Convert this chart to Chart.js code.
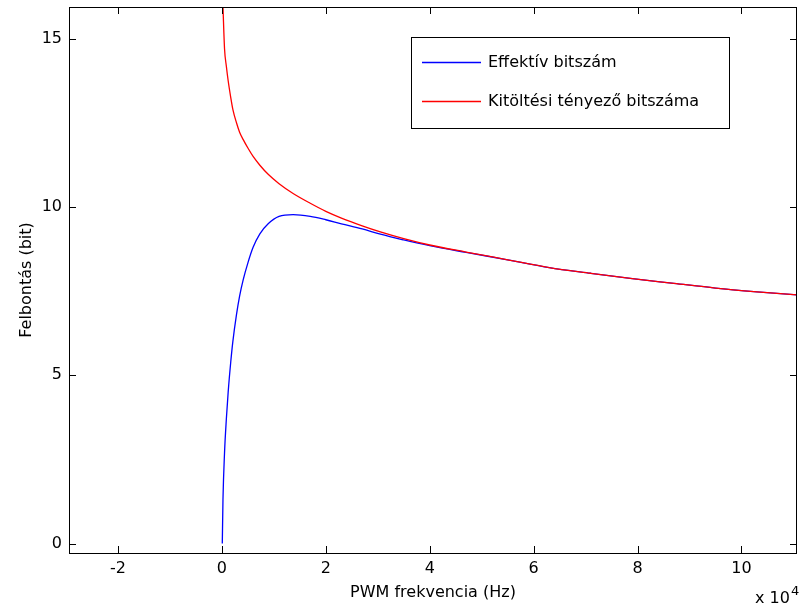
<!DOCTYPE html>
<html>
<head>
<meta charset="utf-8">
<script src="https://cdn.jsdelivr.net/npm/chart.js@4"></script>
<style>
  html, body { margin: 0; padding: 0; background: #fff; }
  #wrap { width: 800px; height: 611px; position: relative; }
</style>
</head>
<body>
<div id="wrap"><canvas id="pwmChart"></canvas></div>
<script>
// PWM frekvencia (Hz) - a leolvasott pontok
const freqHz = [70, 200, 500, 850, 1200, 1700, 2100, 2800, 3400, 4100, 5000, 6000, 7300, 8900,
  11000, 13700, 17000, 20000, 23000, 27000, 30500, 35000, 40000, 47000, 55000, 63000,
  71000, 79000, 87000, 95000, 103000, 110700];

// Effektív bitszám
const effBits = [0.0, 1.3, 2.7, 3.7, 4.5, 5.4, 6.0, 6.8, 7.35, 7.84, 8.34, 8.8, 9.2, 9.5,
  9.72, 9.77, 9.72, 9.62, 9.5, 9.35, 9.19, 9.02, 8.85, 8.65, 8.43, 8.2,
  8.03, 7.87, 7.73, 7.59, 7.48, 7.39];

// Kitöltési tényező bitszáma
const dutyBits = [null, 15.95, 14.7, 14.18, 13.75, 13.25, 12.9, 12.5, 12.22, 12.0, 11.75, 11.5, 11.24, 10.97,
  10.69, 10.4, 10.11, 9.87, 9.67, 9.44, 9.26, 9.06, 8.87, 8.66, 8.43, 8.2,
  8.03, 7.87, 7.73, 7.59, 7.48, 7.39];

const xTicks = [-20000, 0, 20000, 40000, 60000, 80000, 100000];
const yTicks = [0, 5, 10, 15];
const seriesNames = ['Effektív bitszám', 'Kitöltési tényező bitszáma'];

const FONT = 'DejaVu Sans';

// keret, befelé álló osztások, x 10^4 felirat és jelmagyarázat
const matlabAxes = {
  id: 'matlabAxes',
  afterDraw(chart) {
    const ctx = chart.ctx;
    const a = chart.chartArea;
    const xs = chart.scales.x, ys = chart.scales.y;
    const tl = 7;
    ctx.save();
    ctx.strokeStyle = '#000';
    ctx.lineWidth = 1;
    ctx.beginPath();
    xTicks.forEach(v => {
      const px = Math.round(xs.getPixelForValue(v)) + 0.5;
      ctx.moveTo(px, a.bottom); ctx.lineTo(px, a.bottom - tl);
      ctx.moveTo(px, a.top); ctx.lineTo(px, a.top + tl);
    });
    yTicks.forEach(v => {
      const py = Math.round(ys.getPixelForValue(v)) + 0.5;
      ctx.moveTo(a.left, py); ctx.lineTo(a.left + tl, py);
      ctx.moveTo(a.right, py); ctx.lineTo(a.right - tl, py);
    });
    ctx.stroke();
    ctx.strokeRect(Math.round(a.left) + 0.5, Math.round(a.top) + 0.5,
      Math.round(a.right - a.left) - 1, Math.round(a.bottom - a.top));

    // x 10^4
    ctx.fillStyle = '#000';
    ctx.textBaseline = 'alphabetic';
    ctx.textAlign = 'left';
    ctx.font = '16px "' + FONT + '"';
    ctx.fillText('x 10', 755, 603);
    const w = ctx.measureText('x 10').width;
    ctx.font = '13px "' + FONT + '"';
    ctx.fillText('4', 755 + w + 1, 595);

    // jelmagyarázat
    const lx = 411, ly = 37, lw = 318, lh = 91;
    ctx.fillStyle = '#fff';
    ctx.fillRect(lx, ly, lw, lh);
    ctx.strokeStyle = '#000';
    ctx.strokeRect(lx + 0.5, ly + 0.5, lw, lh);
    const rows = [62.5, 101.5];
    const byLabel = {};
    chart.data.datasets.forEach(ds => { byLabel[ds.label] = ds.borderColor; });
    ctx.font = '16px "' + FONT + '"';
    ctx.textBaseline = 'middle';
    seriesNames.forEach((name, i) => {
      ctx.strokeStyle = byLabel[name];
      ctx.lineWidth = 1.3;
      ctx.beginPath();
      ctx.moveTo(422, rows[i]); ctx.lineTo(481, rows[i]);
      ctx.stroke();
      ctx.fillStyle = '#000';
      ctx.fillText(name, 488, rows[i]);
    });
    ctx.restore();
  }
};

// a skála határai már megvannak, itt csak a feliratozott osztásokat cseréljük
const setTicks = list => scale => {
  scale.ticks = list.map(v => ({ value: v }));
};

new Chart(document.getElementById('pwmChart'), {
  type: 'line',
  data: {
    datasets: [
      {
        label: seriesNames[1],
        data: freqHz.map((f, i) => ({ x: f, y: dutyBits[i] })),
        borderColor: '#ff0000',
        borderWidth: 1.3,
        pointRadius: 0,
        cubicInterpolationMode: 'monotone',
        order: 0
      },
      {
        label: seriesNames[0],
        data: freqHz.map((f, i) => ({ x: f, y: effBits[i] })),
        borderColor: '#0000ff',
        borderWidth: 1.3,
        pointRadius: 0,
        cubicInterpolationMode: 'monotone',
        order: 1
      }
    ]
  },
  options: {
    responsive: true,
    maintainAspectRatio: false,
    animation: false,
    layout: { padding: { left: 0, right: 3, top: 7, bottom: 0 } },
    plugins: { legend: { display: false }, tooltip: { enabled: false } },
    scales: {
      x: {
        type: 'linear',
        min: -29440,
        max: 110700,
        afterBuildTicks: setTicks(xTicks),
        afterFit: s => { s.height = 58; s.paddingLeft = 0; s.paddingRight = 0; },
        grid: { display: false, drawTicks: false },
        border: { display: false },
        ticks: {
          autoSkip: false,
          maxRotation: 0,
          padding: 6,
          color: '#000',
          font: { family: FONT, size: 16 },
          callback: v => String(v / 10000)
        },
        title: {
          display: true,
          text: 'PWM frekvencia (Hz)',
          color: '#000',
          font: { family: FONT, size: 16 },
          padding: { top: 0, bottom: 9 }
        }
      },
      y: {
        type: 'linear',
        min: -0.28,
        max: 15.94,
        afterBuildTicks: setTicks(yTicks),
        afterFit: s => { s.width = 69; s.paddingTop = 0; s.paddingBottom = 0; },
        grid: { display: false, drawTicks: false },
        border: { display: false },
        ticks: {
          autoSkip: false,
          padding: 7,
          color: '#000',
          font: { family: FONT, size: 16 },
          callback: v => String(v)
        },
        title: {
          display: true,
          text: 'Felbontás (bit)',
          color: '#000',
          font: { family: FONT, size: 16 },
          padding: { top: 17, bottom: 0 }
        }
      }
    }
  },
  plugins: [matlabAxes]
});
</script>
</body>
</html>
